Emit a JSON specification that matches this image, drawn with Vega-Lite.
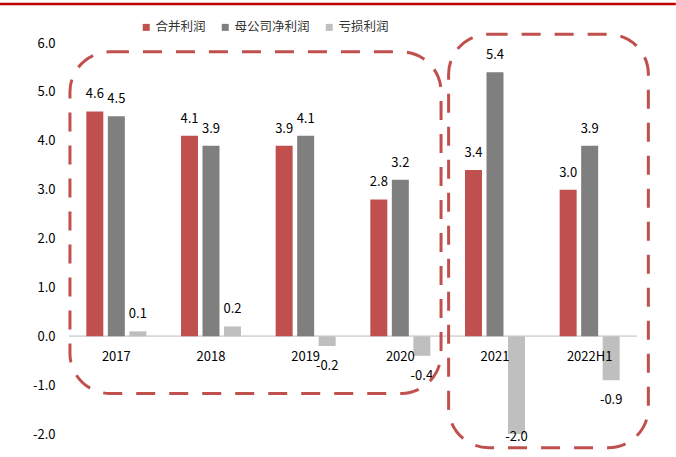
{
  "$schema": "https://vega.github.io/schema/vega-lite/v6.json",
  "width": 568,
  "height": 391,
  "autosize": "none",
  "padding": {"left": 69, "top": 43, "right": 39, "bottom": 23},
  "background": "white",
  "config": {"view": {"stroke": null}, "font": "Noto Sans CJK SC"},
  "datasets": {
    "bars": [
      {"cat": "2017", "series": "合并利润", "v": 4.6},
      {"cat": "2017", "series": "母公司净利润", "v": 4.5},
      {"cat": "2017", "series": "亏损利润", "v": 0.1},
      {"cat": "2018", "series": "合并利润", "v": 4.1},
      {"cat": "2018", "series": "母公司净利润", "v": 3.9},
      {"cat": "2018", "series": "亏损利润", "v": 0.2},
      {"cat": "2019", "series": "合并利润", "v": 3.9},
      {"cat": "2019", "series": "母公司净利润", "v": 4.1},
      {"cat": "2019", "series": "亏损利润", "v": -0.2},
      {"cat": "2020", "series": "合并利润", "v": 2.8},
      {"cat": "2020", "series": "母公司净利润", "v": 3.2},
      {"cat": "2020", "series": "亏损利润", "v": -0.4},
      {"cat": "2021", "series": "合并利润", "v": 3.4},
      {"cat": "2021", "series": "母公司净利润", "v": 5.4},
      {"cat": "2021", "series": "亏损利润", "v": -2.0},
      {"cat": "2022H1", "series": "合并利润", "v": 3.0},
      {"cat": "2022H1", "series": "母公司净利润", "v": 3.9},
      {"cat": "2022H1", "series": "亏损利润", "v": -0.9}
    ],
    "cats": [
      {"cat": "2017"}, {"cat": "2018"}, {"cat": "2019"},
      {"cat": "2020"}, {"cat": "2021"}, {"cat": "2022H1"}
    ]
  },
  "layer": [
    {
      "layer": [
        {
          "data": {"name": "cats"},
          "mark": {"type": "rule", "color": "#D9D9D9", "strokeWidth": 1},
          "encoding": {"y": {"datum": 0}}
        },
        {
          "data": {"name": "bars"},
          "mark": {"type": "bar"},
          "encoding": {
            "x": {"field": "cat", "type": "nominal", "sort": null, "axis": null,
                  "scale": {"paddingInner": 0.366, "paddingOuter": 0.183}},
            "xOffset": {"field": "series", "type": "nominal", "sort": ["合并利润", "母公司净利润", "亏损利润"],
                        "scale": {"paddingInner": 0.21, "paddingOuter": 0}},
            "y": {"field": "v", "type": "quantitative",
                  "scale": {"domain": [-2, 6], "nice": false, "zero": false},
                  "axis": {"values": [-2, -1, 0, 1, 2, 3, 4, 5, 6], "format": ".1f", "grid": false,
                           "labelExpr": "replace(datum.label, '\u2212', '-')",
                           "domain": false, "ticks": false, "labelPadding": 14, "labelFontSize": 13,
                           "labelColor": "#000000", "title": null}},
            "color": {"field": "series", "type": "nominal",
                      "scale": {"domain": ["合并利润", "母公司净利润", "亏损利润"],
                                "range": ["#C0504D", "#7F7F7F", "#BFBFBF"]},
                      "legend": {"orient": "none", "legendX": 71, "legendY": -22, "direction": "horizontal",
                                 "title": null, "symbolType": "square", "symbolSize": 49,
                                 "symbolStrokeWidth": 0, "labelFontSize": 12.5, "labelColor": "#333333",
                                 "columnPadding": 13, "labelOffset": 3, "padding": 0}}
          }
        },
        {
          "data": {"name": "bars"},
          "transform": [{"filter": "datum.v >= 0"}, {"calculate": "format(datum.v, '.1f')", "as": "lab"}],
          "mark": {"type": "text", "baseline": "middle", "dy": -17, "fontSize": 13, "color": "#000000"},
          "encoding": {
            "x": {"field": "cat", "type": "nominal", "sort": null, "axis": null},
            "xOffset": {"field": "series", "type": "nominal", "sort": ["合并利润", "母公司净利润", "亏损利润"]},
            "y": {"field": "v", "type": "quantitative"},
            "text": {"field": "lab"}
          }
        },
        {
          "data": {"name": "bars"},
          "transform": [
            {"filter": "datum.v < 0"},
            {"calculate": "max(datum.v, -1.65)", "as": "ly"},
            {"calculate": "replace(format(datum.v, '.1f'), '\u2212', '-')", "as": "lab"}
          ],
          "mark": {"type": "text", "baseline": "middle", "dy": 20, "fontSize": 13, "color": "#000000"},
          "encoding": {
            "x": {"field": "cat", "type": "nominal", "sort": null, "axis": null},
            "xOffset": {"field": "series", "type": "nominal", "sort": ["合并利润", "母公司净利润", "亏损利润"]},
            "y": {"field": "ly", "type": "quantitative"},
            "text": {"field": "lab"}
          }
        },
        {
          "data": {"name": "cats"},
          "mark": {"type": "text", "baseline": "middle", "dy": 21, "fontSize": 13, "color": "#000000"},
          "encoding": {
            "x": {"field": "cat", "type": "nominal", "sort": null, "axis": null},
            "y": {"datum": 0},
            "text": {"field": "cat"}
          }
        }
      ]
    },
    {
      "layer": [
        {
          "data": {"values": [{}]},
          "mark": {"type": "rect", "fill": null, "stroke": "#C0504D", "strokeWidth": 3,
                   "strokeDash": [19, 14], "cornerRadius": 40},
          "encoding": {
            "x": {"datum": 0.01, "type": "quantitative", "scale": {"domain": [0, 6], "nice": false, "zero": false}, "axis": null},
            "x2": {"datum": 3.93},
            "y": {"datum": 5.82, "type": "quantitative"},
            "y2": {"datum": -1.17}
          }
        },
        {
          "data": {"values": [{}]},
          "mark": {"type": "rect", "fill": null, "stroke": "#C0504D", "strokeWidth": 3,
                   "strokeDash": [19, 14], "cornerRadius": 40},
          "encoding": {
            "x": {"datum": 4.01, "type": "quantitative"},
            "x2": {"datum": 6.12},
            "y": {"datum": 6.18, "type": "quantitative"},
            "y2": {"datum": -2.28}
          }
        },
        {
          "data": {"values": [{}]},
          "mark": {"type": "rule", "color": "#C00000", "strokeWidth": 2.5},
          "encoding": {
            "x": {"datum": -0.729, "type": "quantitative"},
            "x2": {"datum": 6.41},
            "y": {"datum": 6.8, "type": "quantitative"}
          }
        }
      ]
    }
  ],
  "resolve": {"scale": {"x": "independent"}}
}
